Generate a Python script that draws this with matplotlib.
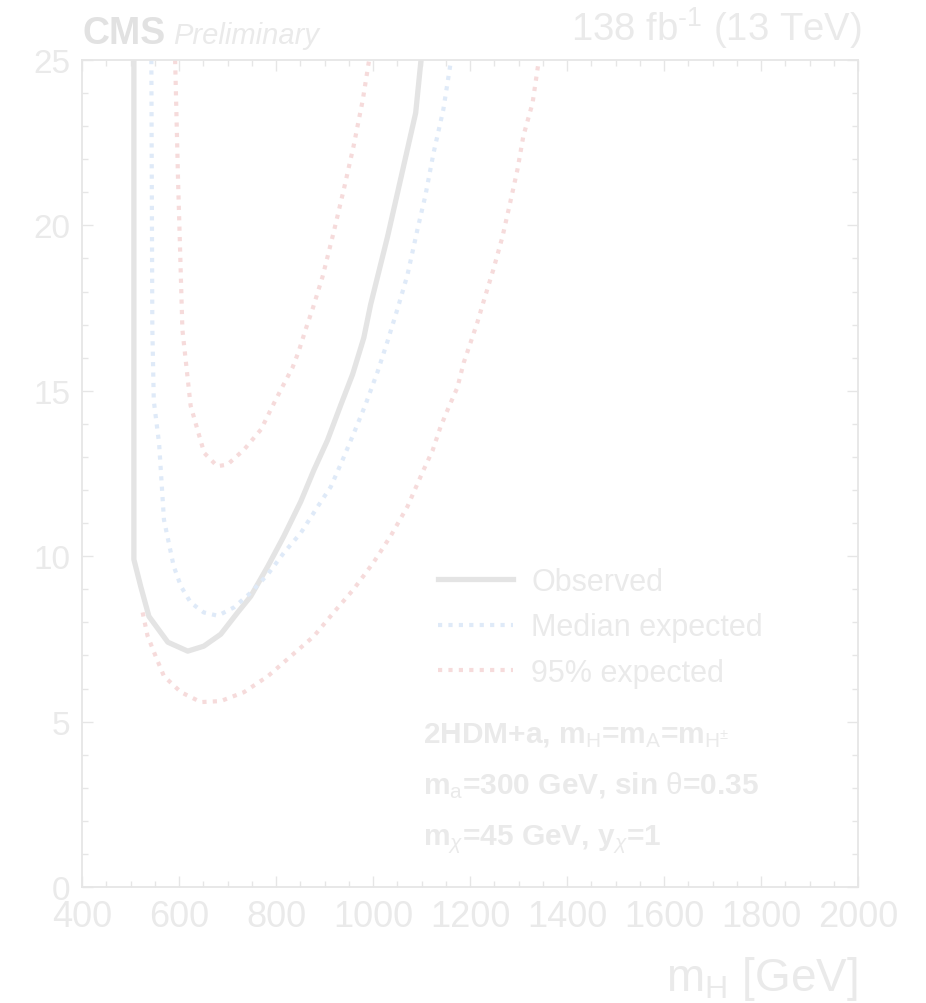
import matplotlib
matplotlib.use("Agg")
import matplotlib.pyplot as plt
from matplotlib.ticker import MultipleLocator

plt.rcParams['font.family'] = ['Liberation Sans', 'DejaVu Sans']
plt.rcParams['mathtext.fontset'] = 'custom'
plt.rcParams['mathtext.rm'] = 'Liberation Sans'
plt.rcParams['mathtext.it'] = 'Liberation Sans:italic'
plt.rcParams['mathtext.bf'] = 'Liberation Sans:bold'

# observed limit
obs_mh = [507, 507, 521, 538, 577, 618, 651, 686, 721, 748, 783, 816, 851, 878,
          906, 933, 958, 981, 995, 1030, 1057, 1088, 1099]
obs_val = [25.0, 9.9, 9.09, 8.18, 7.4, 7.13, 7.28, 7.64, 8.3, 8.79, 9.69, 10.6,
           11.65, 12.6, 13.5, 14.55, 15.5, 16.6, 17.6, 19.66, 21.4, 23.4, 25.0]

# median expected
exp_mh = [543, 545, 548, 559, 569, 579, 589, 604, 624, 651, 680, 713, 748, 783,
          816, 851, 886, 913, 937, 960, 985, 1010, 1030, 1051, 1071, 1092, 1108,
          1125, 1145, 1161]
exp_val = [25.0, 16.9, 14.7, 13.4, 11.1, 10.4, 9.7, 9.09, 8.6, 8.3, 8.2, 8.45,
           8.9, 9.45, 10.1, 10.7, 11.5, 12.1, 12.9, 13.7, 14.6, 15.6, 16.5, 17.5,
           18.5, 19.9, 20.9, 22.2, 23.5, 25.0]

# 95% expected, inner contour
inner_mh = [592, 598, 607, 624, 638, 652, 679, 700, 734, 769, 796, 816, 834, 847,
            861, 876, 896, 919, 940, 960, 979, 992]
inner_val = [25.0, 21.4, 16.85, 14.55, 13.83, 13.12, 12.72, 12.77, 13.22, 13.83,
             14.63, 15.2, 15.7, 16.2, 16.85, 17.5, 18.45, 19.8, 21.1, 22.4, 23.8, 25.0]

# 95% expected, outer contour
outer_mh = [525, 535, 552, 569, 604, 645, 686, 734, 783, 830, 878, 919, 960, 1001,
            1036, 1071, 1104, 1123, 1139, 1156, 1174, 1187, 1201, 1215, 1228, 1248,
            1267, 1283, 1298, 1310, 1329, 1342]
outer_val = [8.3, 7.6, 6.97, 6.37, 5.89, 5.59, 5.62, 5.89, 6.37, 6.97, 7.58, 8.3,
             9.0, 9.81, 10.6, 11.5, 12.6, 13.2, 13.9, 14.5, 15.1, 15.85, 16.45,
             17.06, 17.7, 18.66, 19.66, 20.7, 21.7, 22.7, 23.7, 25.0]

c_text = '#eaeaea'
c_obs = '#e4e4e4'
c_med = '#dfeaf8'
c_95 = '#f6dbdb'
c_frame = '#e6e6e6'

fig = plt.figure(figsize=(9.26, 10.04), dpi=100)
ax = fig.add_axes([82 / 926, 116 / 1004, 776 / 926, 827 / 1004])

dots = (0, (1, 1.5))
ax.plot(obs_mh, obs_val, color=c_obs, lw=3.8, label='Observed', solid_joinstyle='round')
ax.plot(exp_mh, exp_val, color=c_med, lw=3.0, ls=dots, label='Median expected')
ax.plot(inner_mh, inner_val, color=c_95, lw=3.0, ls=dots, label='95% expected')
ax.plot(outer_mh, outer_val, color=c_95, lw=3.0, ls=dots)

ax.set_xlim(400, 2000)
ax.set_ylim(0, 25)
ax.xaxis.set_major_locator(MultipleLocator(200))
ax.xaxis.set_minor_locator(MultipleLocator(50))
ax.yaxis.set_major_locator(MultipleLocator(5))
ax.yaxis.set_minor_locator(MultipleLocator(1))
ax.tick_params(which='both', direction='in', top=True, right=True,
               color=c_frame, labelcolor=c_text, width=1.0)
ax.tick_params(which='major', length=8)
ax.tick_params(which='minor', length=4.5)
ax.tick_params(axis='x', which='major', labelsize=26, pad=9)
ax.tick_params(axis='y', which='major', labelsize=24, pad=8.5)
for s in ax.spines.values():
    s.set_color(c_frame)
    s.set_linewidth(1.3)

ax.set_xlabel(r'm$_{\mathrm{H}}$ [GeV]', fontsize=33, color=c_text, loc='right', labelpad=14)

leg = ax.legend(loc='upper left', bbox_to_anchor=((438 - 82) / 776, (888 - 568) / 827),
                frameon=False, fontsize=22, handlelength=2.45, handletextpad=0.6,
                labelspacing=0.5, borderpad=0, borderaxespad=0)
for t in leg.get_texts():
    t.set_color(c_text)

fig.text(82 / 926, 1 - 44 / 1004, 'CMS', fontsize=27, fontweight='bold', color='#e2e2e2',
         va='baseline', ha='left')
fig.text(173 / 926, 1 - 44 / 1004, 'Preliminary', fontsize=21, style='italic', color=c_text,
         va='baseline', ha='left')
fig.text(862 / 926, 1 - 41 / 1004, r'138 fb$^{\text{-}1}$ (13 TeV)', fontsize=27.5, color=c_text,
         va='baseline', ha='right')

lines = [r'2HDM+a, m$_{\mathrm{H}}$=m$_{\mathrm{A}}$=m$_{\mathrm{H^{\pm}}}$',
         r'm$_{\mathrm{a}}$=300 GeV, sin $\mathrm{\theta}$=0.35',
         r'm$_{\chi}$=45 GeV, y$_{\chi}$=1']
for i, s in enumerate(lines):
    fig.text(423 / 926, 1 - (743 + 51 * i) / 1004, s, fontsize=21.5, fontweight='bold',
             color=c_text, va='baseline', ha='left')

fig.savefig('out.png', dpi=100)
